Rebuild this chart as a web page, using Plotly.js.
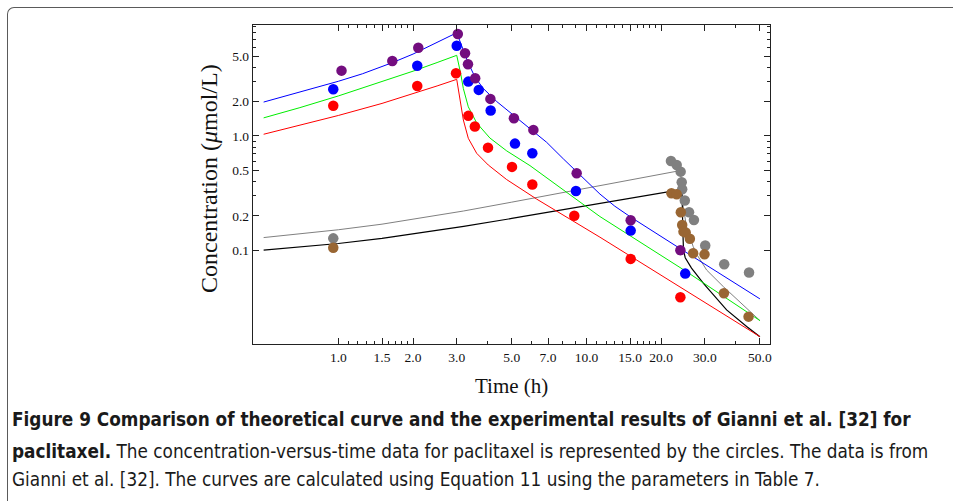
<!DOCTYPE html>
<html>
<head>
<meta charset="utf-8">
<script src="https://cdn.plot.ly/plotly-3.0.1.min.js"></script>
<style>
  html, body { margin: 0; padding: 0; background: #ffffff; overflow: hidden; }
  #frame { position: absolute; left: 7px; top: 7px; width: 1200px; height: 800px;
           border-top: 1.5px solid #5a5a5a; border-left: 1.5px solid #5a5a5a;
           border-top-left-radius: 7px; }
  #plot { position: absolute; left: 0; top: 0; width: 953px; height: 501px; }
</style>
</head>
<body>
<div id="frame"></div>
<div id="plot"></div>
<script>
// ---------- measured data (time in h, concentration in µmol/L) ----------
var purpleT = [1.03, 1.65, 2.1, 3.03, 3.24, 3.33, 3.56, 4.1, 5.1, 6.11, 9.13, 15.07, 23.9];
var purpleC = [3.73, 4.53, 5.92, 7.8, 5.29, 4.24, 3.2, 2.11, 1.43, 1.13, 0.471, 0.183, 0.1];

var blueT = [0.954, 2.08, 3.0, 3.34, 3.68, 4.11, 5.15, 6.05, 9.07, 15.07, 25.0];
var blueC = [2.56, 4.12, 6.17, 2.99, 2.53, 1.67, 0.857, 0.705, 0.33, 0.1485, 0.0624];

var redT = [0.954, 2.08, 2.98, 3.34, 3.55, 4.01, 5.01, 6.05, 8.93, 15.07, 23.9];
var redC = [1.84, 2.74, 3.54, 1.5, 1.21, 0.79, 0.536, 0.376, 0.2, 0.0839, 0.0388];

var greyT = [0.954, 21.9, 23.1, 23.96, 24.2, 24.3, 24.9, 25.9, 27.1, 30.1, 35.9, 45.2];
var greyC = [0.127, 0.604, 0.557, 0.487, 0.394, 0.342, 0.272, 0.215, 0.184, 0.11, 0.0754, 0.0637];

var brownT = [0.954, 22.0, 23.1, 24.0, 24.3, 24.6, 25.1, 26.1, 26.9, 29.9, 35.8, 45.0];
var brownC = [0.105, 0.315, 0.309, 0.215, 0.166, 0.1455, 0.143, 0.126, 0.094, 0.092, 0.042, 0.0262];

// ---------- theoretical curves ----------
var blueLineT = [0.5, 0.7, 1.0, 1.25, 1.5, 1.65, 2.0, 2.5, 3.0, 3.12, 3.24, 3.33, 3.56, 3.84, 4.35, 5.07, 5.92, 6.91, 8.07, 9.13, 11.33, 13.0, 15.07, 23.9, 50];
var blueLineC = [1.98, 2.41, 3.01, 3.5, 4.03, 4.38, 5.21, 6.54, 8.0, 6.4, 5.2, 4.4, 3.25, 2.6, 2.0, 1.53, 1.17, 0.88, 0.63, 0.49, 0.31, 0.243, 0.195, 0.103, 0.0375];

var greenLineT = [0.5, 0.7, 1.0, 1.5, 2.0, 2.5, 3.0, 3.11, 3.19, 3.34, 3.61, 4.08, 4.77, 5.92, 7.02, 11.33, 25.0, 50];
var greenLineC = [1.44, 1.77, 2.24, 2.98, 3.69, 4.39, 5.08, 3.54, 2.6, 1.8, 1.3, 0.96, 0.74, 0.55, 0.42, 0.197, 0.066, 0.0242];

var redLineT = [0.5, 0.7, 1.0, 1.5, 2.0, 2.5, 3.0, 3.09, 3.19, 3.34, 3.61, 4.02, 4.77, 6.3, 11.33, 50];
var redLineC = [1.035, 1.237, 1.511, 1.927, 2.33, 2.74, 3.13, 2.06, 1.38, 0.954, 0.705, 0.557, 0.415, 0.28, 0.13, 0.0175];

var greyLineT = [0.5, 0.7, 1.0, 1.5, 2.2, 3.2, 5.0, 8.0, 13.0, 18.0, 23.8, 24.1, 24.4, 25.3, 26.9, 28.0, 30.5, 35.6, 50];
var greyLineC = [0.129, 0.1386, 0.151, 0.169, 0.192, 0.2205, 0.2634, 0.3194, 0.388, 0.4418, 0.497, 0.42, 0.26, 0.16, 0.108, 0.09, 0.067, 0.048, 0.0242];

var blackLineT = [0.5, 0.7, 1.0, 1.5, 2.2, 3.2, 5.0, 8.0, 13.0, 18.0, 23.4, 24.2, 24.3, 24.45, 24.6, 25.0, 25.7, 26.5, 29.6, 36.7, 44.2, 50];
var blackLineC = [0.1, 0.1062, 0.1145, 0.1267, 0.1422, 0.1615, 0.1896, 0.2257, 0.27, 0.3046, 0.3356, 0.33, 0.28, 0.15, 0.1, 0.086, 0.077, 0.0697, 0.0513, 0.030, 0.0215, 0.0175];

// ---------- tick labels ----------
var xTickVals = [1, 1.5, 2, 3, 5, 7, 10, 15, 20, 30, 50];
var xTickText = ["1.0", "1.5", "2.0", "3.0", "5.0", "7.0", "10.0", "15.0", "20.0", "30.0", "50.0"];
var xMinorVals = [1.1, 1.2, 1.3, 1.4, 1.6, 1.7, 1.8, 1.9, 4, 6, 8, 9, 11, 12, 13, 14, 16, 17, 18, 19, 40];
var yTickVals = [0.1, 0.2, 0.5, 1, 2, 5];
var yTickText = ["0.1", "0.2", "0.5", "1.0", "2.0", "5.0"];
var yMinorVals = [0.3, 0.4, 0.6, 0.7, 0.8, 0.9, 3, 4, 6, 7, 8, 9];

var serif = "Liberation Serif, Times New Roman, serif";
var capFont = "Liberation Sans Narrow, DejaVu Sans Condensed, Open Sans, sans-serif";

function line(x, y, color, w) {
  return { x: x, y: y, type: "scatter", mode: "lines", line: { color: color, width: w }, hoverinfo: "skip" };
}
function pts(x, y, color) {
  return { x: x, y: y, type: "scatter", mode: "markers", marker: { color: color, size: 10.5, line: { width: 0 } }, hoverinfo: "skip" };
}

var traces = [
  line(greyLineT, greyLineC, "#808080", 1),
  line(blackLineT, blackLineC, "#000000", 1.2),
  line(redLineT, redLineC, "#ff0000", 1),
  line(greenLineT, greenLineC, "#00ee00", 1),
  line(blueLineT, blueLineC, "#0000ff", 1),
  pts(greyT, greyC, "#808080"),
  pts(brownT, brownC, "#996633"),
  pts(redT, redC, "#ff0000"),
  pts(blueT, blueC, "#0000ff"),
  pts(purpleT, purpleC, "#730d7f")
];

var L = 253, R = 770, T = 25, B = 344, W = 953, H = 501;
function px(xp) { return (xp - L) / (R - L); }
function py(yp) { return (B - yp) / (B - T); }

var layout = {
  width: W, height: H,
  margin: { l: L, r: W - R, t: T, b: H - B, pad: 0 },
  paper_bgcolor: "rgba(0,0,0,0)",
  plot_bgcolor: "rgba(0,0,0,0)",
  showlegend: false,
  xaxis: {
    type: "log", range: [Math.log10(0.453), Math.log10(54.9)],
    tickmode: "array", tickvals: xTickVals, ticktext: xTickText,
    ticks: "inside", ticklen: 6, tickwidth: 1, tickcolor: "#222",
    showline: true, linecolor: "#222", linewidth: 1.3, mirror: "ticks",
    showgrid: false, zeroline: false,
    tickfont: { family: serif, size: 13.5, color: "#111" },
    minor: { tickmode: "array", tickvals: xMinorVals, ticks: "inside", ticklen: 3, tickcolor: "#222", showgrid: false }
  },
  yaxis: {
    type: "log", range: [Math.log10(0.0151), Math.log10(9.36)],
    tickmode: "array", tickvals: yTickVals, ticktext: yTickText,
    ticks: "inside", ticklen: 6, tickwidth: 1, tickcolor: "#222",
    showline: true, linecolor: "#222", linewidth: 1.3, mirror: "ticks",
    showgrid: false, zeroline: false,
    tickfont: { family: serif, size: 13.5, color: "#111" },
    minor: { tickmode: "array", tickvals: yMinorVals, ticks: "inside", ticklen: 3, tickcolor: "#222", showgrid: false }
  },
  annotations: [
    { xref: "paper", yref: "paper", x: px(511), y: py(386), xanchor: "center", yanchor: "middle",
      text: "Time (h)", showarrow: false, font: { family: serif, size: 21, color: "#111" } },
    { xref: "paper", yref: "paper", x: px(209), y: py(179), xanchor: "center", yanchor: "middle", textangle: -90,
      text: "Concentration (<i>μ</i>mol/L)", showarrow: false, font: { family: serif, size: 24, color: "#111" } },
    { xref: "paper", yref: "paper", x: px(10), y: py(419), xanchor: "left", yanchor: "middle",
      text: "<b>Figure 9 Comparison of theoretical curve and the experimental results of Gianni et al. [32] for</b>",
      showarrow: false, font: { family: capFont, size: 18.8, color: "#1a1a1a" } },
    { xref: "paper", yref: "paper", x: px(10), y: py(451), xanchor: "left", yanchor: "middle",
      text: "<b>paclitaxel.</b> The concentration-versus-time data for paclitaxel is represented by the circles. The data is from",
      showarrow: false, font: { family: capFont, size: 18.8, color: "#1a1a1a" } },
    { xref: "paper", yref: "paper", x: px(10), y: py(479), xanchor: "left", yanchor: "middle",
      text: "Gianni et al. [32]. The curves are calculated using Equation 11 using the parameters in Table 7.",
      showarrow: false, font: { family: capFont, size: 18.8, color: "#1a1a1a" } }
  ]
};

Plotly.newPlot("plot", traces, layout, { displayModeBar: false, staticPlot: true });
</script>
</body>
</html>
